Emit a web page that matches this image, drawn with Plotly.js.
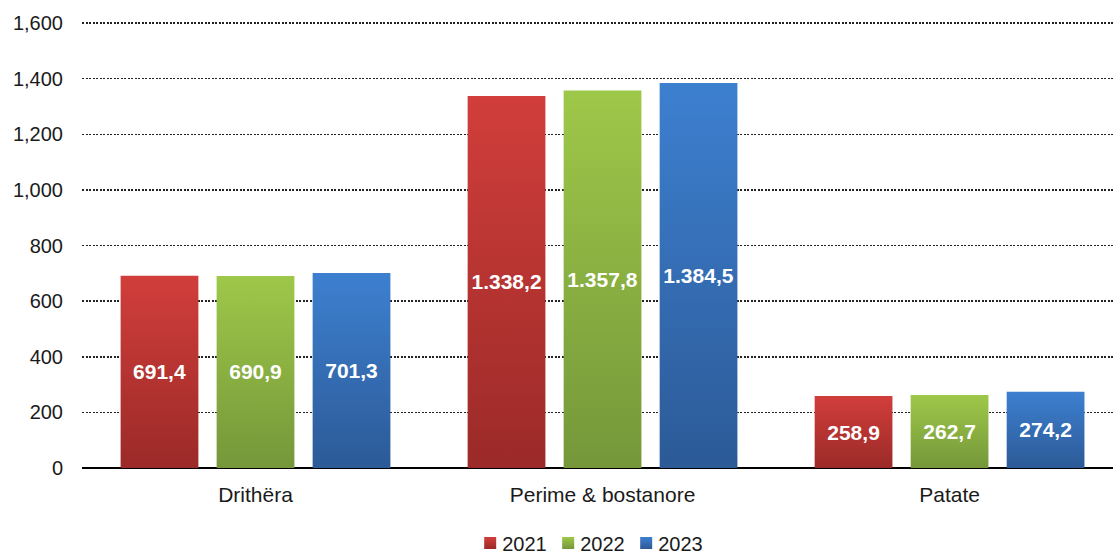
<!DOCTYPE html>
<html><head><meta charset="utf-8">
<script src="https://cdn.plot.ly/plotly-3.0.1.min.js"></script>
<style>html,body{margin:0;padding:0;background:#fff;overflow:hidden}#chart{width:1113px;height:554px}</style>
</head><body><div id="chart"></div>
<script>
const categories = ["Drithëra", "Perime & bostanore", "Patate"];
const years = ["2021", "2022", "2023"];
const values2021 = [691.4, 1338.2, 258.9];
const values2022 = [690.9, 1357.8, 262.7];
const values2023 = [701.3, 1384.5, 274.2];
const yTicks = [0, 200, 400, 600, 800, 1000, 1200, 1400, 1600];

const fills = [
  {id: "gR", top: "#d13e3b", bot: "#9b2a28", mid: "#bd3633"},
  {id: "gG", top: "#9ec849", bot: "#75973a", mid: "#8bb042"},
  {id: "gB", top: "#3d80d0", bot: "#2c5a97", mid: "#356fb5"}
];

function fmt(v) {
  const parts = v.toFixed(1).split(".");
  const intp = parts[0].replace(/\B(?=(\d{3})+(?!\d))/g, ".");
  return intp + "," + parts[1];
}

const series = [values2021, values2022, values2023];
const traces = series.map((vals, i) => ({
  type: "bar",
  name: years[i],
  x: categories,
  y: vals,
  text: vals.map(fmt),
  textposition: "inside",
  insidetextanchor: "middle",
  textangle: 0,
  constraintext: "none",
  textfont: {family: "Arial, Liberation Sans, sans-serif", size: 21, color: "#ffffff", weight: "bold"},
  marker: {color: fills[i].mid, line: {width: 0}},
  hoverinfo: "none"
}));

const layout = {
  width: 1113, height: 554,
  margin: {l: 82, r: 0, t: 22, b: 86},
  paper_bgcolor: "#fff", plot_bgcolor: "#fff",
  barmode: "group",
  bargap: 0.17,
  bargroupgap: 0.19,
  font: {family: "Arial, Liberation Sans, sans-serif", color: "#1a1a1a", size: 20},
  xaxis: {
    automargin: false,
    range: [-0.5, 2.471],
    showline: false, ticks: "", showgrid: false, zeroline: false,
    tickfont: {size: 21, color: "#1a1a1a"},
    ticklabelstandoff: 12
  },
  yaxis: {
    automargin: false,
    range: [0, 1604], tickvals: yTicks, separatethousands: true,
    showgrid: true, gridcolor: "#222", griddash: "2px,1.5px", gridwidth: 1.5,
    zeroline: true, zerolinecolor: "#000", zerolinewidth: 2,
    showline: false, ticks: "", ticklabelstandoff: 18,
    tickfont: {size: 20, color: "#1a1a1a"}
  },
  showlegend: true,
  legend: {
    orientation: "h", x: 0.49, xanchor: "center", xref: "paper",
    yref: "container", y: 0.02, yanchor: "middle",
    font: {size: 20, color: "#1a1a1a"}, itemwidth: 30, traceorder: "normal",
    entrywidth: 33, entrywidthmode: "pixels"
  }
};

Plotly.newPlot("chart", traces, layout, {staticPlot: true}).then(gd => {
  const svg = gd.querySelector("svg.main-svg");
  const ns = "http://www.w3.org/2000/svg";
  let defs = svg.querySelector("defs");
  fills.forEach(f => {
    const lg = document.createElementNS(ns, "linearGradient");
    lg.setAttribute("id", f.id);
    lg.setAttribute("x1", "0"); lg.setAttribute("y1", "0");
    lg.setAttribute("x2", "0"); lg.setAttribute("y2", "1");
    [[0, f.top], [1, f.bot]].forEach(([o, c]) => {
      const s = document.createElementNS(ns, "stop");
      s.setAttribute("offset", o); s.setAttribute("stop-color", c);
      lg.appendChild(s);
    });
    defs.appendChild(lg);
  });
  gd.querySelectorAll(".barlayer .trace").forEach((tr, i) => {
    tr.querySelectorAll("path").forEach(p => { p.style.fill = "url(#" + fills[i].id + ")"; });
  });
  gd.querySelectorAll(".legend .traces").forEach((tr, i) => {
    tr.querySelectorAll(".legendpoints path").forEach(p => { p.style.fill = "url(#" + fills[i].id + ")"; });
    const t = tr.querySelector("text.legendtext");
    if (t) t.setAttribute("x", "32");
  });
});
</script></body></html>
